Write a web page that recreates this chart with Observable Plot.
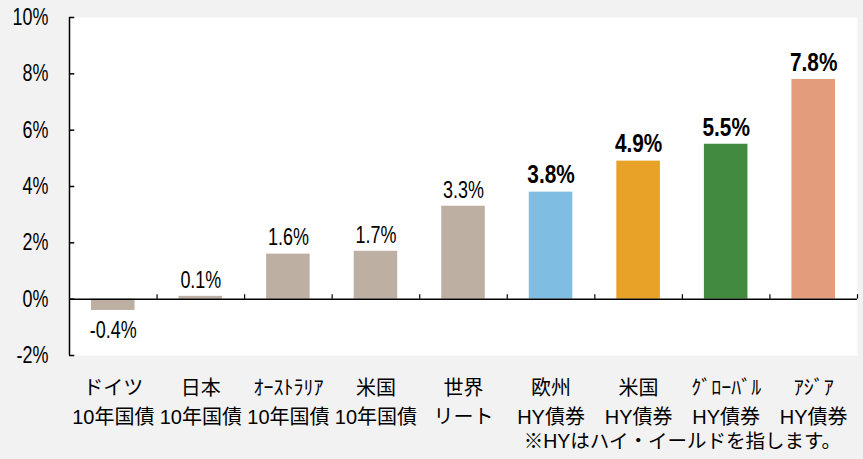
<!DOCTYPE html>
<html><head><meta charset="utf-8">
<script src="https://cdn.jsdelivr.net/npm/d3@7"></script>
<script src="https://cdn.jsdelivr.net/npm/@observablehq/plot@0.6"></script>
<style>
html,body{margin:0;padding:0;background:#f2f2f2;}
svg{display:block;}
</style></head>
<body><div id="chart"></div>
<script>
const labelLine1 = ["ドイツ","日本","ｵｰｽﾄﾗﾘｱ","米国","世界","欧州","米国","ｸﾞﾛｰﾊﾞﾙ","ｱｼﾞｱ"];
const labelLine2 = ["10年国債","10年国債","10年国債","10年国債","リート","HY債券","HY債券","HY債券","HY債券"];
const values = [-0.4, 0.1, 1.6, 1.7, 3.3, 3.8, 4.9, 5.5, 7.8];
const colors = ["#bdafa2","#bdafa2","#bdafa2","#bdafa2","#bdafa2","#7fbde3","#e8a227","#418a40","#e39d7d"];
const boldLabel = [false,false,false,false,false,true,true,true,true];
const yTicks = [-2, 0, 2, 4, 6, 8, 10];
const note = "※HYはハイ・イールドを指します。";

const data = values.map((v, i) => ({i, v, color: colors[i], bold: boldLabel[i],
  label: labelLine1[i] + "\n" + labelLine2[i]}));
const NUMFONT = "'Liberation Sans',Arial,sans-serif";
const CJKFONT = "'Liberation Sans','Noto Sans CJK JP',sans-serif";

const chart = Plot.plot({
  width: 863, height: 459,
  marginLeft: 69, marginRight: 6, marginTop: 17, marginBottom: 104,
  style: {background: "#f2f2f2", fontFamily: CJKFONT, color: "black"},
  x: {domain: [0, 9], axis: null},
  y: {domain: [-2, 10], axis: null},
  marks: [
    Plot.frame({fill: "white", stroke: null}),
    Plot.rectY(data, {x1: d => d.i, x2: d => d.i + 1, y1: 0, y2: "v", fill: "color", insetLeft: 22, insetRight: 22}),
    Plot.ruleY([0], {x1: 0, x2: 9, stroke: "black", strokeWidth: 1.5}),
    Plot.ruleX(d3.range(1, 10), {x: d => d, y1: 0, y2: 0.16, stroke: "black", strokeWidth: 1.2}),
    Plot.ruleX([0], {y1: -2, y2: 10, stroke: "black", strokeWidth: 1.5}),
    Plot.ruleY(yTicks, {y: d => d, x1: 0, x2: 0.06, stroke: "black", strokeWidth: 1.5}),
    Plot.text(yTicks, {x: 0, y: d => d, text: d => d + "%", textAnchor: "end", dx: -21, fontSize: 23,
      fontFamily: NUMFONT, fill: "black"}),
    Plot.text(data.filter(d => !d.bold && d.v >= 0), {x: d => d.i + 0.5, y: "v", text: d => d.v.toFixed(1) + "%",
      dy: -16, fontSize: 23, fontFamily: NUMFONT, fill: "black"}),
    Plot.text(data.filter(d => !d.bold && d.v < 0), {x: d => d.i + 0.5, y: "v", text: d => d.v.toFixed(1) + "%",
      dy: 20, fontSize: 23, fontFamily: NUMFONT, fill: "black"}),
    Plot.text(data.filter(d => d.bold), {x: d => d.i + 0.5, y: "v", text: d => d.v.toFixed(1) + "%",
      dy: -17, fontSize: 26, fontWeight: "bold", fontFamily: NUMFONT, fill: "black"}),
    Plot.text(data, {x: d => d.i + 0.5, y: -2, text: "label", lineAnchor: "top", dy: 19, lineHeight: 1.45,
      fontSize: 20, fill: "black"}),
    Plot.text([note], {x: 7, y: -2, text: d => d, dy: 86, fontSize: 19.5, fill: "black"})
  ]
});
document.getElementById("chart").append(chart);
// Condense numeric labels horizontally (narrow face look)
chart.querySelectorAll("text").forEach(t => {
  if (/^[-0-9.%]+$/.test(t.textContent)) {
    const bold = t.closest("[font-weight]") || t.getAttribute("font-weight");
    const w = t.getComputedTextLength();
    t.setAttribute("textLength", (w * (bold ? 0.8 : 0.78)).toFixed(1));
    t.setAttribute("lengthAdjust", "spacingAndGlyphs");
  }
});
</script></body></html>
